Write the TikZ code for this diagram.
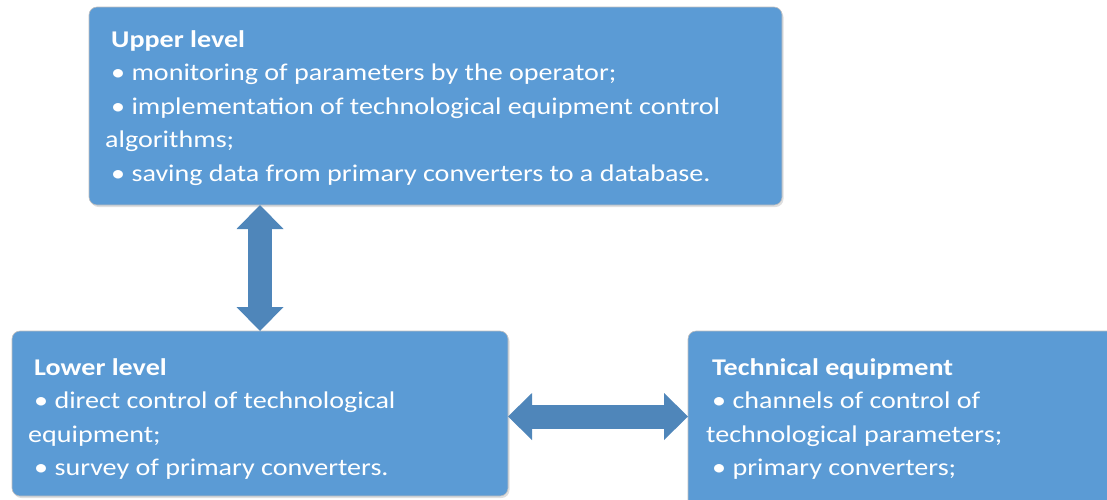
\documentclass[tikz,border=0pt]{standalone}
\usepackage{fontspec}
\setmainfont{Carlito}[FakeStretch=1.17]
\usepackage{xcolor}
\usetikzlibrary{positioning,shadows,arrows.meta}

\definecolor{boxblue}{RGB}{91,155,213}
\definecolor{arrowblue}{RGB}{79,134,186}
% leading blank of a bullet line
\newcommand{\lineindent}{\hspace*{6pt}}

\begin{document}
\begin{tikzpicture}[
	%	style def
    x=1pt, y=-1pt,
    level box/.style={draw=black!25, line width=0.6pt, fill=boxblue, rounded corners=8pt,
        outer sep=0pt, inner sep=0pt,
        drop shadow={shadow xshift=1.5pt, shadow yshift=-2pt, opacity=0.25}},
    box text/.style={text=white, align=left, inner sep=0pt, font=\fontsize{24}{33.5}\selectfont},
    big arrow/.style={arrowblue, line width=24pt,
        {Triangle[length=24pt,width=47pt,line width=0pt]}-{Triangle[length=24pt,width=47pt,line width=0pt]}}
    ]
    \useasboundingbox (0,0) rectangle (1107,499);

	% the three levels
    \node[level box, minimum width=693, minimum height=198] (upper) at (435.5,106) {};
    \node[level box, minimum width=496, minimum height=165] (lower) at (260,413.5) {};
    \node[level box, minimum width=496, minimum height=200] (tech) at (936,431) {};

    % texts of the levels
    \node[box text, below right=23pt and 16pt of upper.north west] (upper text) {%
        \lineindent\textbf{Upper level}\\
        \lineindent• monitoring of parameters by the operator;\\
        \lineindent• implementation of technological equipment control\\
        algorithms;\\
        \lineindent• saving data from primary converters to a database.};
    \node[box text, below right=27pt and 16pt of lower.north west] (lower text) {%
        \lineindent\textbf{Lower level}\\
        \lineindent• direct control of technological\\
        equipment;\\
        \lineindent• survey of primary converters.};
    \node[box text, below right=27pt and 18pt of tech.north west] (tech text) {%
        \lineindent\textbf{Technical equipment}\\
        \lineindent• channels of control of\\
        technological parameters;\\
        \lineindent• primary converters;};

    % data exchange between levels
    \draw[big arrow] (lower.north |- upper.south) -- (lower.north);
    \draw[big arrow] ([yshift=-3pt]lower.east) -- ([yshift=-3pt]lower.east -| tech.west);
\end{tikzpicture}
\end{document}
